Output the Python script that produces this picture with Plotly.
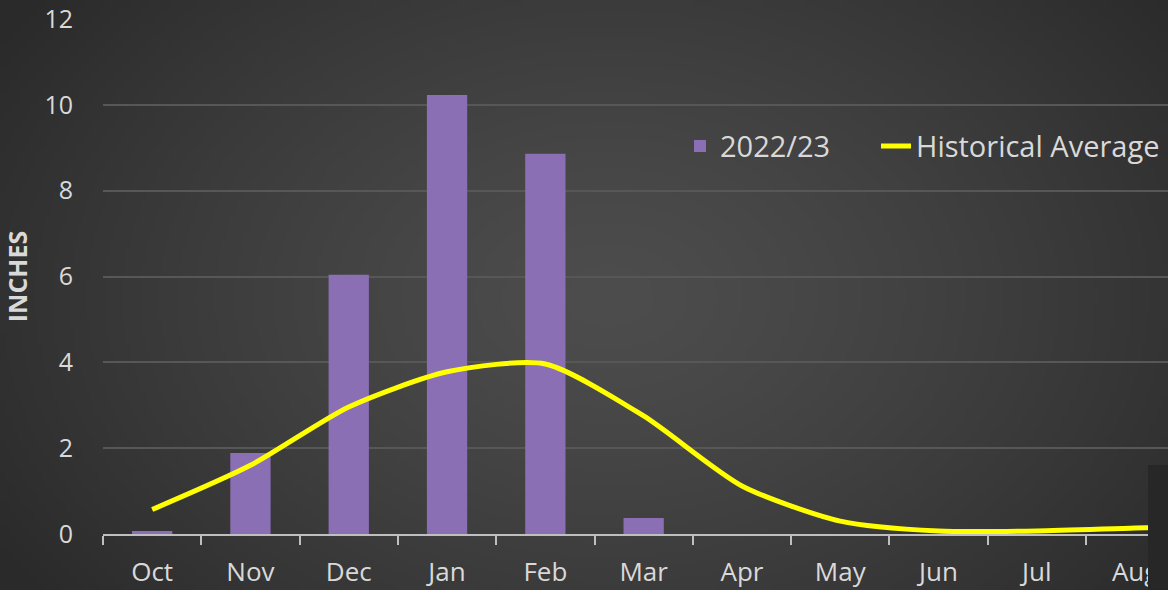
import base64
import struct
import zlib

import numpy as np
import plotly.graph_objects as go

months = ["Oct", "Nov", "Dec", "Jan", "Feb", "Mar", "Apr", "May", "Jun", "Jul", "Aug", "Sep"]
season_2022_23 = [0.07, 1.89, 6.04, 10.23, 8.86, 0.37, 0, 0, 0, 0, 0, 0]
historical_avg = [0.57, 1.6, 2.96, 3.78, 3.96, 2.75, 1.12, 0.3, 0.07, 0.07, 0.14, 0.2]
y_ticks = [0, 2, 4, 6, 8, 10, 12]

W, H = 1168, 590
ML, MR, MT, MB = 103, 0, 19, 56
PW, PH = W - ML - MR, H - MT - MB


def gradient_png(w, h):
    yy, xx = np.mgrid[0:h, 0:w].astype(float)
    cx, cy = w * 0.52, h * 0.5
    d = np.sqrt(((xx - cx) / (w * 0.62)) ** 2 + ((yy - cy) / (h * 0.85)) ** 2)
    d = np.clip(d, 0, 1)
    v = 77 - (77 - 42) * d ** 1.3
    img = np.clip(v, 0, 255).astype(np.uint8)
    rgb = np.stack([img, img, img], axis=-1)
    raw = b"".join(b"\x00" + rgb[r].tobytes() for r in range(h))

    def chunk(t, data):
        c = struct.pack(">I", len(data)) + t + data
        return c + struct.pack(">I", zlib.crc32(t + data) & 0xFFFFFFFF)

    png = b"\x89PNG\r\n\x1a\n"
    png += chunk(b"IHDR", struct.pack(">IIBBBBB", w, h, 8, 2, 0, 0, 0))
    png += chunk(b"IDAT", zlib.compress(raw, 9))
    png += chunk(b"IEND", b"")
    return "data:image/png;base64," + base64.b64encode(png).decode()


font = "Open Sans"
text_col = "#d9d9d9"

fig = go.Figure()
fig.add_trace(go.Bar(
    x=months, y=season_2022_23, name="2022/23",
    marker=dict(color="#8a6fb4", line=dict(width=0)),
    width=0.41, legend="legend",
))
fig.add_trace(go.Scatter(
    x=months, y=historical_avg, name="Historical Average", mode="lines",
    line=dict(color="#ffff00", width=5, shape="spline", smoothing=0.7),
    legend="legend2",
))

legend_common = dict(
    orientation="h", y=0.753, xanchor="left", yanchor="middle",
    bgcolor="rgba(0,0,0,0)", font=dict(size=29, color=text_col),
)

fig.update_layout(
    width=W, height=H,
    margin=dict(l=ML, r=MR, t=MT, b=MB),
    paper_bgcolor="#383838",
    plot_bgcolor="rgba(0,0,0,0)",
    font=dict(family=font, color=text_col, size=20),
    showlegend=True,
    legend=dict(x=(680 - ML) / PW, **legend_common),
    legend2=dict(x=(876 - ML) / PW, **legend_common),
    images=[dict(
        source=gradient_png(292, 148), xref="paper", yref="paper",
        x=-ML / PW, y=1 + MT / PH, sizex=W / PW, sizey=H / PH,
        xanchor="left", yanchor="top", sizing="stretch", layer="below",
    )],
    shapes=[dict(
        type="rect", xref="paper", yref="paper",
        x0=(1148 - ML) / PW, x1=1.0, y0=-MB / PH, y1=(534 - 465) / PH,
        fillcolor="#272727", line=dict(width=0), layer="above",
    )],
)

fig.update_xaxes(
    type="category", range=[-0.5, -0.5 + PW / 98.3],
    showgrid=False, showline=True, linecolor="#bfbfbf", linewidth=1.5,
    ticks="outside", tickson="boundaries", ticklen=9, tickcolor="#bfbfbf", tickwidth=1.5,
    tickfont=dict(size=26, color=text_col), zeroline=False, ticklabelstandoff=14,
)
fig.update_yaxes(
    range=[0, 12], tickvals=y_ticks, showgrid=True, gridcolor="#575757", gridwidth=1.5,
    zeroline=False, showline=False, ticks="", ticklabelstandoff=29,
    tickfont=dict(size=25, color=text_col),
    title=dict(text="<b>INCHES</b>", font=dict(size=25, color=text_col), standoff=10),
)

fig.write_html(
    "out.html",
    config={"displayModeBar": False},
    post_script="document.body.style.margin='0';",
)
